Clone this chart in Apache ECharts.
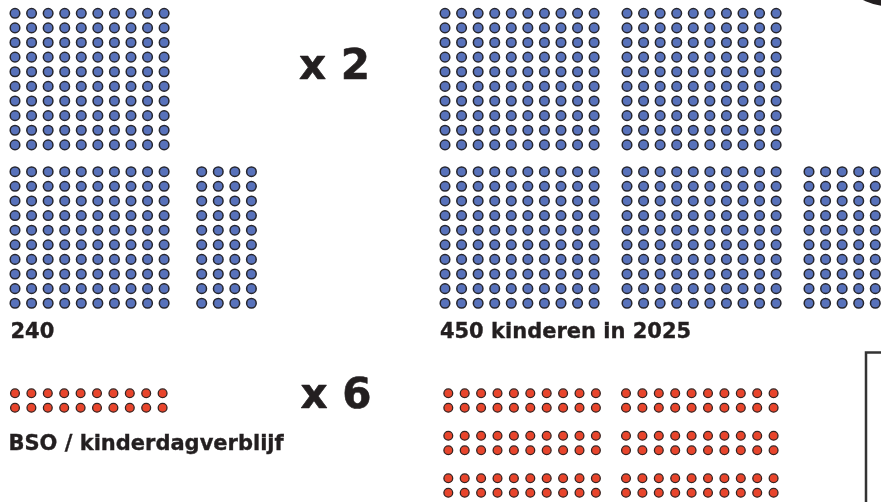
<!DOCTYPE html>
<html>
<head>
<meta charset="utf-8">
<script src="https://cdn.jsdelivr.net/npm/echarts@6/dist/echarts.min.js"></script>
<style>
html,body{margin:0;padding:0;background:#fff;}
#chart{width:881px;height:502px;}
</style>
</head>
<body>
<div id="chart"></div>
<script>
// ---- data ----
const groupLabels = ['240', '450 kinderen in 2025', 'BSO / kinderdagverblijf'];
const multipliers = ['x 2', 'x 6'];
const leftBlueBlocks = [100, 100, 40];            // 240 children
const rightBlueBlocks = [100, 100, 100, 100, 50]; // 450 children in 2025
const leftRedBlocks = [20];                        // BSO / kinderdagverblijf
const rightRedBlocks = [20, 20, 20, 20, 20, 20];   // x 6

// ---- layout (pixel-space axes) ----
const W = 881, H = 502;
const blueLayout = {
  left: [{x: 15, y: 13.3}, {x: 15, y: 171.7}, {x: 201.7, y: 171.7}],
  right: [{x: 445, y: 13.3}, {x: 627, y: 13.3}, {x: 445, y: 171.7}, {x: 627, y: 171.7}, {x: 809, y: 171.7}]
};
const redLayout = {
  left: [{x: 15, y: 393.3}],
  right: [{x: 448.3, y: 393.3}, {x: 626, y: 393.3}, {x: 448.3, y: 435.8}, {x: 626, y: 435.8}, {x: 448.3, y: 478.3}, {x: 626, y: 478.3}]
};

function bluePoints(blocks, origins) {
  const pts = [];
  blocks.forEach((n, b) => {
    const o = origins[b];
    for (let i = 0; i < n; i++) {
      const col = Math.floor(i / 10), row = i % 10;
      pts.push([o.x + col * 16.57, o.y + row * 14.62]);
    }
  });
  return pts;
}
function redPoints(blocks, origins) {
  const pts = [];
  blocks.forEach((n, b) => {
    const o = origins[b];
    for (let i = 0; i < n; i++) {
      const row = Math.floor(i / 10), col = i % 10;
      pts.push([o.x + col * 16.4, o.y + row * 14.5]);
    }
  });
  return pts;
}

const blueStyle = {color: '#5872bb', borderColor: '#26262e', borderWidth: 1.5, opacity: 1};
const redStyle = {color: '#e8452c', borderColor: '#352422', borderWidth: 1.3, opacity: 1};

const FONT = '"DejaVu Sans", Verdana, sans-serif';
function txt(text, x, y, size) {
  return {
    type: 'text', x: x, y: y, silent: true,
    style: {text: text, font: 'bold ' + size + 'px ' + FONT, fill: '#231f20', stroke: '#231f20', lineWidth: size > 30 ? 0.6 : 0.35, textAlign: 'left', textVerticalAlign: 'top', verticalAlign: 'top'}
  };
}

const chart = echarts.init(document.getElementById('chart'), null, {renderer: 'canvas'});
chart.setOption({
  animation: false,
  backgroundColor: '#ffffff',
  grid: {left: 0, right: 0, top: 0, bottom: 0},
  xAxis: {type: 'value', min: 0, max: W, show: false},
  yAxis: {type: 'value', min: 0, max: H, inverse: true, show: false},
  series: [
    {type: 'scatter', name: groupLabels[0], data: bluePoints(leftBlueBlocks, blueLayout.left), symbol: 'circle', symbolSize: 9.6, itemStyle: blueStyle, silent: true},
    {type: 'scatter', name: groupLabels[1], data: bluePoints(rightBlueBlocks, blueLayout.right), symbol: 'circle', symbolSize: 9.6, itemStyle: blueStyle, silent: true},
    {type: 'scatter', name: groupLabels[2], data: redPoints(leftRedBlocks, redLayout.left), symbol: 'circle', symbolSize: 8.8, itemStyle: redStyle, silent: true},
    {type: 'scatter', name: groupLabels[2] + ' x6', data: redPoints(rightRedBlocks, redLayout.right), symbol: 'circle', symbolSize: 8.8, itemStyle: redStyle, silent: true}
  ],
  graphic: [
    txt(multipliers[0], 299, 47.5, 42),
    txt(multipliers[1], 300.5, 375.8, 42),
    txt(groupLabels[0], 10.5, 321.6, 21),
    txt(groupLabels[1], 439.9, 321.6, 21),
    txt(groupLabels[2], 8.4, 434.0, 21),
    {type: 'circle', silent: true, shape: {cx: 895, cy: -70, r: 77}, style: {fill: '#231f20'}},
    {type: 'rect', silent: true, shape: {x: 866, y: 352.5, width: 100, height: 200}, style: {fill: 'none', stroke: '#333333', lineWidth: 2.5}}
  ]
});
</script>
</body>
</html>
